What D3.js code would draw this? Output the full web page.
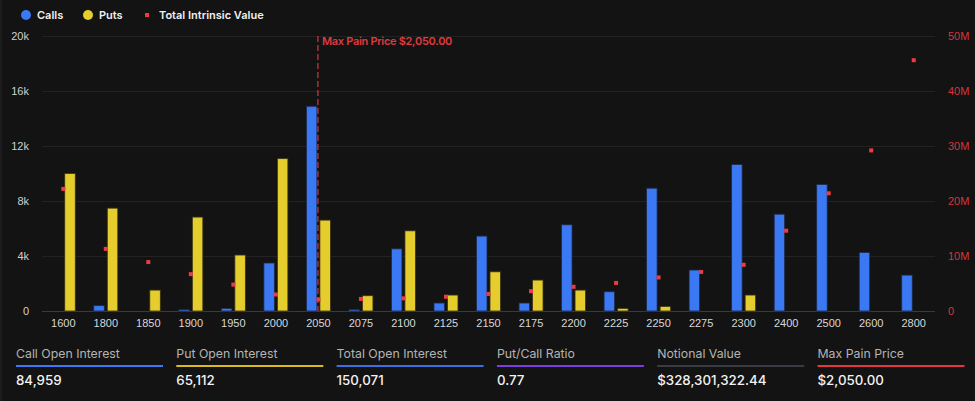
<!DOCTYPE html>
<html>
<head>
<meta charset="utf-8">
<script src="https://cdn.jsdelivr.net/npm/d3@7"></script>
<style>
  html, body { margin: 0; padding: 0; background: #131313; }
  body { width: 975px; height: 401px; overflow: hidden; border-left: 2px solid #1c1c1c; box-sizing: border-box; }
  svg { display: block; font-family: Inter, "Noto Sans", sans-serif; }
</style>
</head>
<body>
<div id="chart"></div>
<script>
var strikes = ["1600","1800","1850","1900","1950","2000","2050","2075","2100","2125","2150","2175","2200","2225","2250","2275","2300","2400","2500","2600","2800"];
var calls = [0, 390, 0, 100, 190, 3490, 14890, 100, 4520, 580, 5450, 580, 6270, 1400, 8930, 2980, 10650, 7040, 9200, 4260, 2610];
var puts = [10000, 7480, 1520, 6830, 4070, 11080, 6610, 1110, 5830, 1160, 2850, 2250, 1520, 190, 330, 0, 1160, 0, 0, 0, 0];
var intrinsic = [22.2, 11.3, 8.9, 6.7, 4.8, 3.0, 2.1, 2.2, 2.3, 2.6, 3.1, 3.6, 4.4, 5.1, 6.1, 7.1, 8.4, 14.6, 21.4, 29.2, 45.6]; // millions
var leftTicks = [0, 4000, 8000, 12000, 16000, 20000];
var rightTicks = [0, 10, 20, 30, 40, 50];
var maxPain = "2050";

var stats = [
  {title: "Call Open Interest", value: "84,959", color: "#3b78f5"},
  {title: "Put Open Interest", value: "65,112", color: "#d9bb1f"},
  {title: "Total Open Interest", value: "150,071", color: "#3b6fe0"},
  {title: "Put/Call Ratio", value: "0.77", color: "#7a3ee0"},
  {title: "Notional Value", value: "$328,301,322.44", color: "#3a3c44"},
  {title: "Max Pain Price", value: "$2,050.00", color: "#e0383e"}
];

var svgWidth = 973;
var svgHeight = 401;

var svg = d3.select("#chart").append("svg").attr("width", svgWidth).attr("height", svgHeight);

var x = d3.scaleBand().domain(strikes).range([40, 933]);
var y = d3.scaleLinear().domain([0, 20000]).range([311, 36]);
var y2 = d3.scaleLinear().domain([0, 50]).range([311, 36]);

// gridlines
svg.append("g").selectAll("line").data(leftTicks).enter()
  .append("line")
  .attr("x1", 40).attr("x2", 933)
  .attr("y1", d => y(d) + 0.5).attr("y2", d => y(d) + 0.5)
  .attr("stroke", d => d === 0 ? "#3a3a3a" : "#222")
  .attr("stroke-width", 1);

// left axis
var leftAxis = d3.axisLeft(y).tickValues(leftTicks).tickSize(0).tickPadding(0)
  .tickFormat(d => d === 0 ? "0" : (d / 1000) + "k");
svg.append("g").attr("transform", "translate(27,0)").call(leftAxis)
  .call(g => g.select(".domain").remove())
  .selectAll("text").attr("fill", "#d0d0d0").attr("font-size", 11).attr("font-weight", 500);

// right axis
var rightAxis = d3.axisRight(y2).tickValues(rightTicks).tickSize(0).tickPadding(0)
  .tickFormat(d => d === 0 ? "0" : d + "M");
svg.append("g").attr("transform", "translate(946,0)").call(rightAxis)
  .call(g => g.select(".domain").remove())
  .selectAll("text").attr("fill", "#d6363c").attr("font-size", 11);

// bottom axis
var bottomAxis = d3.axisBottom(x).tickSize(0).tickPadding(8);
svg.append("g").attr("transform", "translate(0,311)").call(bottomAxis)
  .call(g => g.select(".domain").remove())
  .selectAll("text").attr("fill", "#d8d8d8").attr("font-size", 11).attr("font-weight", 500);

var bw = 10.5;

// calls bars
svg.append("g").selectAll("rect").data(strikes).enter()
  .append("rect")
  .filter((d, i) => calls[i] > 0)
  .attr("x", d => x(d) + x.bandwidth() / 2 - 1.5 - bw)
  .attr("y", (d) => y(calls[strikes.indexOf(d)]))
  .attr("width", bw)
  .attr("height", d => 311 - y(calls[strikes.indexOf(d)]))
  .attr("fill", "#3a78f4")
  .attr("stroke", "#1d2a44")
  .attr("stroke-width", 0.8);

// puts bars
svg.append("g").selectAll("rect").data(strikes).enter()
  .append("rect")
  .filter((d, i) => puts[i] > 0)
  .attr("x", d => x(d) + x.bandwidth() / 2 + 1.5)
  .attr("y", d => y(puts[strikes.indexOf(d)]))
  .attr("width", bw)
  .attr("height", d => 311 - y(puts[strikes.indexOf(d)]))
  .attr("fill", "#e6cd2e")
  .attr("stroke", "#3a3414")
  .attr("stroke-width", 0.8);

// max pain line
var mpx = x(maxPain) + x.bandwidth() / 2 - 0.5;
svg.append("line")
  .attr("x1", mpx).attr("x2", mpx)
  .attr("y1", 36).attr("y2", 311)
  .attr("stroke", "#d6363c").attr("stroke-width", 1.2)
  .attr("stroke-dasharray", "6,3");
svg.append("text")
  .attr("x", mpx + 4).attr("y", 45)
  .attr("fill", "#e0383e").attr("font-size", 11).attr("font-weight", 600)
  .attr("letter-spacing", -0.3)
  .text("Max Pain Price $2,050.00");

// intrinsic value dots
svg.append("g").selectAll("rect").data(strikes).enter()
  .append("rect")
  .attr("x", d => x(d) + x.bandwidth() / 2 - 2)
  .attr("y", (d, i) => y2(intrinsic[i]) - 2)
  .attr("width", 4).attr("height", 4)
  .attr("fill", "#ec3b44");

// legend
var legend = svg.append("g").attr("font-size", 11).attr("font-weight", 600).attr("fill", "#f0f0f0");
legend.append("circle").attr("cx", 24).attr("cy", 15).attr("r", 5).attr("fill", "#3a78f4");
legend.append("text").attr("x", 35).attr("y", 19).text("Calls");
legend.append("circle").attr("cx", 86).attr("cy", 15).attr("r", 5).attr("fill", "#e6cd2e");
legend.append("text").attr("x", 97).attr("y", 19).text("Puts");
legend.append("rect").attr("x", 143).attr("y", 13).attr("width", 4).attr("height", 4).attr("fill", "#ec3b44");
legend.append("text").attr("x", 157).attr("y", 19).text("Total Intrinsic Value");

// stats row
var statG = svg.append("g").selectAll("g").data(stats).enter()
  .append("g")
  .attr("transform", (d, i) => `translate(${14 + i * 160.3}, 0)`);
statG.append("text").attr("x", 0).attr("y", 358)
  .attr("fill", "#b4b4b4").attr("font-size", 12.3)
  .text(d => d.title);
statG.append("line").attr("x1", 0).attr("x2", 147)
  .attr("y1", 366).attr("y2", 366)
  .attr("stroke", d => d.color).attr("stroke-width", 2);
statG.append("text").attr("x", 0).attr("y", 385)
  .attr("fill", "#f2f2f2").attr("font-size", 13.3).attr("font-weight", 500)
  .text(d => d.value);
</script>
</body>
</html>
